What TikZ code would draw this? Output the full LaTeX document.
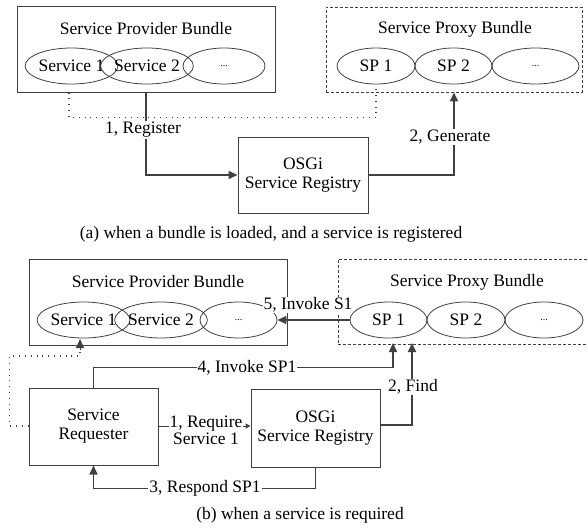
\documentclass[tikz,border=0pt]{standalone}
\usepackage{fontspec}
\setmainfont{Liberation Serif}
\usetikzlibrary{shapes.geometric,arrows.meta,calc}
\definecolor{ln}{HTML}{404040}
\begin{document}
\begin{tikzpicture}[x=1pt,y=-1pt,
  font=\fontsize{17.5}{20}\selectfont,
  bundle/.style={draw=ln,line width=1pt,rectangle,inner sep=0pt},
  proxy/.style={draw=ln,line width=0.8pt,dash pattern=on 3pt off 2pt,rectangle,inner sep=0pt},
  svc/.style={draw=ln,line width=0.8pt,ellipse,inner sep=0pt,minimum height=36pt},
  regbox/.style={draw=ln,line width=1pt,rectangle,inner sep=0pt,align=center,minimum width=129pt,minimum height=77pt},
  conn/.style={draw=ln,line width=1.5pt,-{Triangle[length=9pt,width=8pt]}},
  thinconn/.style={draw=ln,line width=1pt,-{Triangle[length=5pt,width=5pt]}},
  dots/.style={draw=ln,line width=1.2pt,dash pattern=on 0.8pt off 5pt},
  lbl/.style={fill=white,inner sep=1pt,align=center},
  txt/.style={inner sep=0pt}]
\useasboundingbox (0,0) rectangle (588,527);
\clip (0,0) rectangle (588,527);

% ---------- (a) ----------
\node[bundle,minimum width=258pt,minimum height=85pt] (spbA) at (146,49.5) {};
\node[txt] (spbAt) at (146,29) {Service Provider Bundle};
\node[svc,minimum width=77pt] (s1A) at (71.5,66) {Service 1};
\node[svc,minimum width=74pt] (s2A) at (147,66) {Service 2};
\node[svc,minimum width=82pt] (s3A) at (224,66) {\fontsize{10}{10}\selectfont ...};

\node[proxy,minimum width=256pt,minimum height=85pt] (spxA) at (454,49.5) {};
\node[txt] (spxAt) at (455,29) {Service Proxy Bundle};
\node[svc,minimum width=78pt] (p1A) at (376,66) {SP 1};
\node[svc,minimum width=77pt] (p2A) at (453.5,66) {SP 2};
\node[svc,minimum width=87pt] (p3A) at (535.5,66) {\fontsize{10}{10}\selectfont ...};

\node[regbox,minimum width=130pt,minimum height=76pt] (regA) at (303,175) {OSGi\\[-1pt]Service Registry};

\draw[dots] (s1A.south |- spbA.south) ++(-2.5,0) -- ++(0,25) -| (p1A.south);
\draw[conn] (spbA.south) |- (regA.west);
\node[lbl] (lblRegister) at (143,130) {1, Register};
\draw[conn] (regA.east) -| (spxA.south);
\node[lbl] (lblGenerate) at (450,137) {2, Generate};

\node[txt] (capA) at (271,234) {(a) when a bundle is loaded, and a service is registered};

% ---------- (b) ----------
\node[bundle,minimum width=258pt,minimum height=86pt] (spbB) at (158,302) {};
\node[txt] (spbBt) at (158,282) {Service Provider Bundle};
\node[svc,minimum width=77pt] (s1B) at (83.5,320) {Service 1};
\node[svc,minimum width=78pt] (s2B) at (161,320) {Service 2};
\node[svc,minimum width=77pt] (s3B) at (238.5,320) {\fontsize{10}{10}\selectfont ...};

\node[proxy,minimum width=257pt,minimum height=85pt] (spxB) at (466.5,301.5) {};
\node[txt] (spxBt) at (467,282) {Service Proxy Bundle};
\node[svc,minimum width=77pt] (p1B) at (388.5,320) {SP 1};
\node[svc,minimum width=78pt] (p2B) at (466,320) {SP 2};
\node[svc,minimum width=78pt] (p3B) at (544,320) {\fontsize{10}{10}\selectfont ...};

\node[regbox] (req) at (93.5,426.5) {Service\\[-1pt]Requester};
\node[regbox,minimum height=78pt] (regB) at (315.5,428) {OSGi\\[-1pt]Service Registry};

\coordinate (t4) at (393,343);
\coordinate (t2) at (412,343);
\coordinate (t1) at (80,339);

% 5, Invoke S1
\draw[conn] (p1B.west) -- (s3B.east);
\node[lbl] (lbl5) at (308,305) {5, Invoke S1};
% 1, Require Service 1
\draw[thinconn] ([yshift=0.5pt]req.east) -- ([yshift=0.5pt]req.east -| regB.west);
\node[lbl,inner sep=0.5pt] (lbl1) at (206,430) {1, Require\\[-3pt]Service 1};
% 4, Invoke SP1
\draw[conn] (req.north) -- ++(0,-20) -| (t4);
\node[lbl] (lbl4) at (247,368) {4, Invoke SP1};
% 2, Find
\draw[conn] ([yshift=3pt]regB.east) -| (t2);
\node[lbl] (lbl2) at (413,387) {2, Find};
% 3, Respond SP1
\draw[conn] (regB.south) -- ++(0,21) -| (req.south);
\node[lbl] (lbl3) at (205,488) {3, Respond SP1};
% dotted requester -> service 1
\draw[dots] ([yshift=0.5pt]req.west) -- ++(-19,0) |- (80,356) -- ++(0,-7);
\draw[draw=ln,line width=1pt,-{Triangle[length=9pt,width=8pt]}] (80,350) -- (t1);

\node[txt] (capB) at (300,515) {(b) when a service is required};
\end{tikzpicture}
\end{document}
